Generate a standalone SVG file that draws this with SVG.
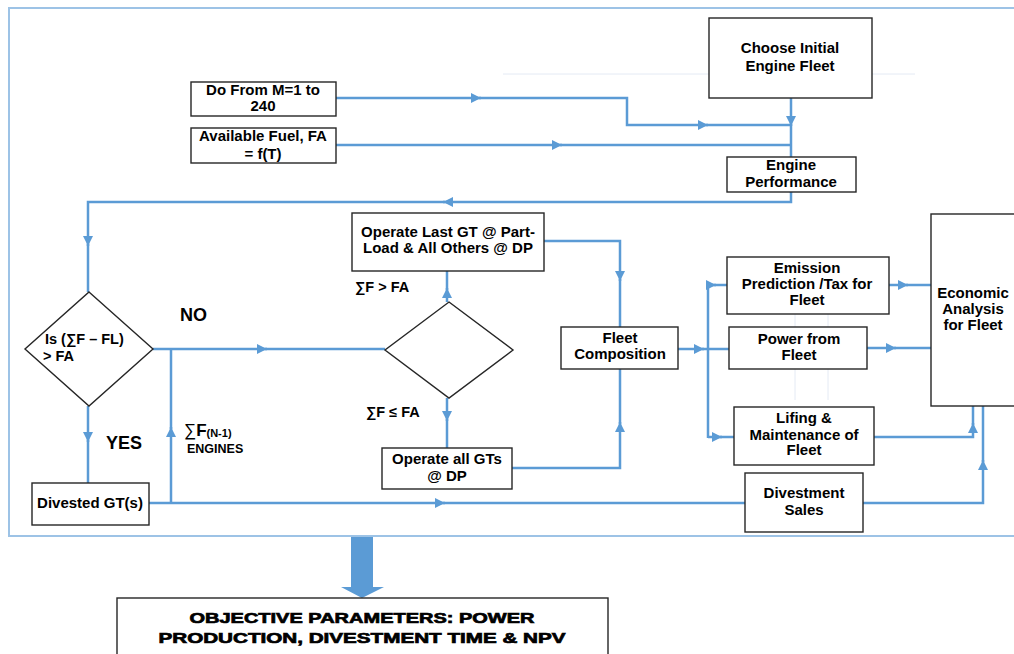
<svg xmlns="http://www.w3.org/2000/svg" width="1014" height="654" viewBox="0 0 1014 654">
<defs>
<marker id="ah" viewBox="0 0 10 10" refX="10" refY="5" markerWidth="11" markerHeight="10" markerUnits="userSpaceOnUse" orient="auto">
<path d="M0,0 L10,5 L0,10 z" fill="#5B9BD5"/>
</marker>
<style>
.box{fill:#fff;stroke:#262626;stroke-width:1.4}
.t{font-family:"Liberation Sans",Arial,sans-serif;font-weight:bold;font-size:15px;fill:#000;text-anchor:middle}
.l{font-family:"Liberation Sans",Arial,sans-serif;font-weight:bold;fill:#000}
.heavy{stroke:#000;stroke-width:0.7}
.c{fill:none;stroke:#5B9BD5;stroke-width:2.5}
.a{fill:none;stroke:#5B9BD5;stroke-width:2.5;marker-end:url(#ah)}
.faint{stroke:#E4EAF4;stroke-width:1;fill:none}
</style>
</defs>
<rect width="1014" height="654" fill="#fff"/>
<rect x="9" y="8" width="1020" height="528" fill="none" stroke="#9DC3E6" stroke-width="2"/>
<g id="artifacts">
<path class="faint" d="M503,74 H915"/>
<path class="faint" d="M795,313 V400 M828,313 V400"/>
</g>
<g id="connectors">
<path class="a" d="M336,98 H481"/>
<path class="a" d="M479,98 H627 V125 H708"/>
<path class="c" d="M706,125 H791"/>
<path class="a" d="M336,145 H562"/>
<path class="c" d="M560,145 H791"/>
<path class="a" d="M791,98 V126"/>
<path class="c" d="M791,124 V157"/>
<path class="a" d="M791,185 V193"/>
<path class="a" d="M791,192 V202 H443"/>
<path class="a" d="M445,202 H88 V246"/>
<path class="c" d="M88,244 V292"/>
<path class="a" d="M88,406 V442"/>
<path class="c" d="M88,440 V483"/>
<path class="a" d="M153,349 H267"/>
<path class="c" d="M265,349 H385"/>
<path class="a" d="M171,503 V427"/>
<path class="c" d="M171,429 V349"/>
<path class="a" d="M149,503 H445"/>
<path class="c" d="M443,503 H745"/>
<path class="a" d="M447,302 V288"/>
<path class="c" d="M447,290 V271"/>
<path class="a" d="M447,398 V421"/>
<path class="c" d="M447,419 V448"/>
<path class="a" d="M544,241 H620 V281"/>
<path class="c" d="M620,279 V327"/>
<path class="a" d="M512,468 H620 V422"/>
<path class="c" d="M620,424 V369"/>
<path class="a" d="M678,349 H704"/>
<path class="c" d="M702,349 H729"/>
<path class="c" d="M708,284 V438"/>
<path class="a" d="M708,285 H716"/>
<path class="c" d="M714,285 H727"/>
<path class="a" d="M708,437 H722"/>
<path class="c" d="M720,437 H734"/>
<path class="a" d="M889,285 H908"/>
<path class="c" d="M906,285 H931"/>
<path class="a" d="M867,348 H896"/>
<path class="c" d="M894,348 H931"/>
<path class="a" d="M874,437 H973 V423"/>
<path class="c" d="M973,425 V406"/>
<path class="a" d="M863,503 H983 V460"/>
<path class="c" d="M983,462 V406"/>
</g>
<g id="choose">
<rect class="box" x="709" y="18" width="163" height="80"/>
<text class="t" x="790" y="53">Choose Initial</text>
<text class="t" x="790" y="71">Engine Fleet</text>
</g>
<g id="dofrom">
<rect class="box" x="191" y="82" width="145" height="34"/>
<text class="t" x="263" y="95">Do From M=1 to</text>
<text class="t" x="263" y="111">240</text>
</g>
<g id="fuel">
<rect class="box" x="191" y="128" width="145" height="35"/>
<text class="t" x="263" y="141">Available Fuel, FA</text>
<text class="t" x="263" y="159">= f(T)</text>
</g>
<g id="engperf">
<rect class="box" x="727" y="157" width="129" height="35"/>
<text class="t" x="791" y="170">Engine</text>
<text class="t" x="791" y="187">Performance</text>
</g>
<g id="decision1">
<path class="box" d="M89,292 L153,349 L89,406 L25,349 Z"/>
<text class="l" x="45" y="344" font-size="14.5">Is (∑F – FL)</text>
<text class="l" x="43" y="361" font-size="14.5">&gt; FA</text>
</g>
<g id="labels">
<text class="l" x="180" y="321" font-size="18">NO</text>
<text class="l" x="106" y="449" font-size="18">YES</text>
<text class="l" x="184" y="436" font-size="17"><tspan font-weight="normal">∑</tspan>F<tspan font-size="11" dy="1">(N-1)</tspan></text>
<text class="l" x="187" y="453" font-size="12.5">ENGINES</text>
<text class="l" x="355" y="292" font-size="14.5">∑F &gt; FA</text>
<text class="l" x="366" y="417" font-size="14.5">∑F ≤ FA</text>
</g>
<g id="divested">
<rect class="box" x="32" y="483" width="117" height="42"/>
<text class="t" x="90" y="508">Divested GT(s)</text>
</g>
<g id="decision2">
<path class="box" d="M449,302 L513,350 L449,398 L385,350 Z"/>
</g>
<g id="operatelast">
<rect class="box" x="352" y="213" width="192" height="58"/>
<text class="t" x="448" y="237">Operate Last GT @ Part-</text>
<text class="t" x="448" y="253">Load &amp; All Others @ DP</text>
</g>
<g id="operateall">
<rect class="box" x="382" y="448" width="130" height="41"/>
<text class="t" x="447" y="464">Operate all GTs</text>
<text class="t" x="447" y="481">@ DP</text>
</g>
<g id="fleetcomp">
<rect class="box" x="561" y="327" width="117" height="42"/>
<text class="t" x="620" y="343">Fleet</text>
<text class="t" x="620" y="359">Composition</text>
</g>
<g id="emission">
<rect class="box" x="727" y="257" width="162" height="57"/>
<text class="t" x="807" y="273">Emission</text>
<text class="t" x="807" y="289">Prediction /Tax for</text>
<text class="t" x="807" y="305">Fleet</text>
</g>
<g id="power">
<rect class="box" x="729" y="327" width="138" height="42"/>
<text class="t" x="799" y="344">Power from</text>
<text class="t" x="799" y="360">Fleet</text>
</g>
<g id="lifing">
<rect class="box" x="734" y="407" width="140" height="58"/>
<text class="t" x="804" y="423">Lifing &amp;</text>
<text class="t" x="804" y="440">Maintenance of</text>
<text class="t" x="804" y="455">Fleet</text>
</g>
<g id="divestsales">
<rect class="box" x="745" y="473" width="118" height="59"/>
<text class="t" x="804" y="498">Divestment</text>
<text class="t" x="804" y="515">Sales</text>
</g>
<g id="economic">
<rect class="box" x="931" y="214" width="90" height="192"/>
<text class="t" x="973" y="298">Economic</text>
<text class="t" x="973" y="314">Analysis</text>
<text class="t" x="973" y="330">for Fleet</text>
</g>
<g id="bigarrow">
<path d="M351,537 H373 V587 H384 L362,598 L341,587 H351 Z" fill="#5B9BD5"/>
</g>
<g id="objective">
<rect class="box" x="117" y="598" width="491" height="70"/>
<text class="t heavy" x="362" y="623" font-size="18" textLength="345" lengthAdjust="spacingAndGlyphs">OBJECTIVE PARAMETERS: POWER</text>
<text class="t heavy" x="362" y="643" font-size="18" textLength="407" lengthAdjust="spacingAndGlyphs">PRODUCTION, DIVESTMENT TIME &amp; NPV</text>
</g>
</svg>
